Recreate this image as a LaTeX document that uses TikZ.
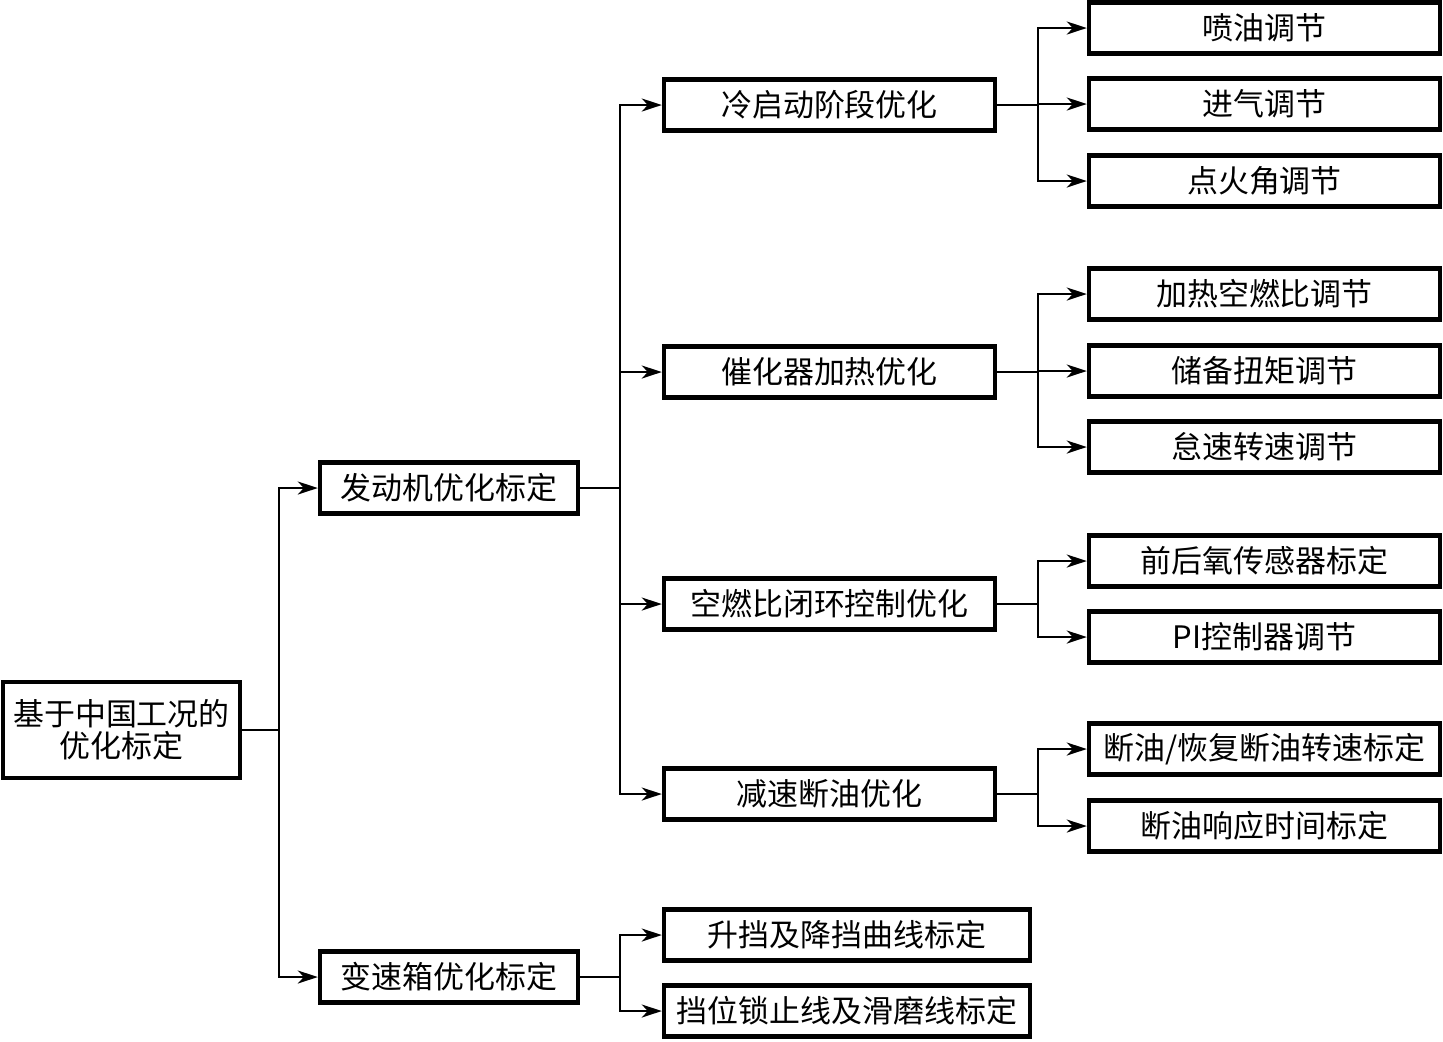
\documentclass[tikz,border=0pt]{standalone}
\usepackage{fontspec}
\setmainfont{Noto Sans CJK SC}
\usetikzlibrary{arrows.meta}

\tikzset{
  box/.style={draw,line width=1.2pt,minimum height=0.51cm,inner sep=0pt,
    font=\fontsize{8.8}{9.2}\selectfont},
  arr/.style={->,line width=0.6pt},
}

\begin{document}
\begin{tikzpicture}[x=0.01cm,y=-0.01cm,>={Stealth[length=2mm,width=1.3mm,inset=0.6mm]}]
\useasboundingbox (0,0) rectangle (1443,1041);
% root and first level
\node[box,minimum width=2.37cm,minimum height=0.96cm,align=center] (root) at (121.5,730) {基于中国工况的\\优化标定};
\node[box,minimum width=2.58cm] (eng) at (449,488) {发动机优化标定};
\node[box,minimum width=2.58cm] (gear) at (449,977) {变速箱优化标定};
% second level
\node[box,minimum width=3.31cm] (cs) at (829.5,105) {冷启动阶段优化};
\node[box,minimum width=3.31cm] (cat) at (829.5,372) {催化器加热优化};
\node[box,minimum width=3.31cm] (afr) at (829.5,604) {空燃比闭环控制优化};
\node[box,minimum width=3.31cm] (dfc) at (829.5,794) {减速断油优化};
\node[box,minimum width=3.66cm] (shift) at (847,935) {升挡及降挡曲线标定};
\node[box,minimum width=3.66cm] (lock) at (847,1011) {挡位锁止线及滑磨线标定};
% third level
\node[box,minimum width=3.51cm] (inj) at (1264.5,28) {喷油调节};
\node[box,minimum width=3.51cm] (air) at (1264.5,104) {进气调节};
\node[box,minimum width=3.51cm] (ign) at (1264.5,181) {点火角调节};
\node[box,minimum width=3.51cm] (hafr) at (1264.5,294) {加热空燃比调节};
\node[box,minimum width=3.51cm] (tq) at (1264.5,371) {储备扭矩调节};
\node[box,minimum width=3.51cm] (idle) at (1264.5,447) {怠速转速调节};
\node[box,minimum width=3.51cm] (o2) at (1264.5,561) {前后氧传感器标定};
\node[box,minimum width=3.51cm] (pi) at (1264.5,637) {PI控制器调节};
\node[box,minimum width=3.51cm] (fco) at (1264.5,749) {断油/恢复断油转速标定};
\node[box,minimum width=3.51cm] (fcr) at (1264.5,826) {断油响应时间标定};
% connectors
\foreach \c in {eng,gear} \draw[arr] (root.east) -- ++(37,0) |- (\c.west);
\foreach \c in {cs,cat,afr,dfc} \draw[arr] (eng.east) -- ++(40,0) |- (\c.west);
\foreach \c in {shift,lock} \draw[arr] (gear.east) -- ++(40,0) |- (\c.west);
\foreach \c in {inj,air,ign} \draw[arr] (cs.east) -- ++(41,0) |- (\c.west);
\foreach \c in {hafr,tq,idle} \draw[arr] (cat.east) -- ++(41,0) |- (\c.west);
\foreach \c in {o2,pi} \draw[arr] (afr.east) -- ++(41,0) |- (\c.west);
\foreach \c in {fco,fcr} \draw[arr] (dfc.east) -- ++(41,0) |- (\c.west);
\end{tikzpicture}
\end{document}
